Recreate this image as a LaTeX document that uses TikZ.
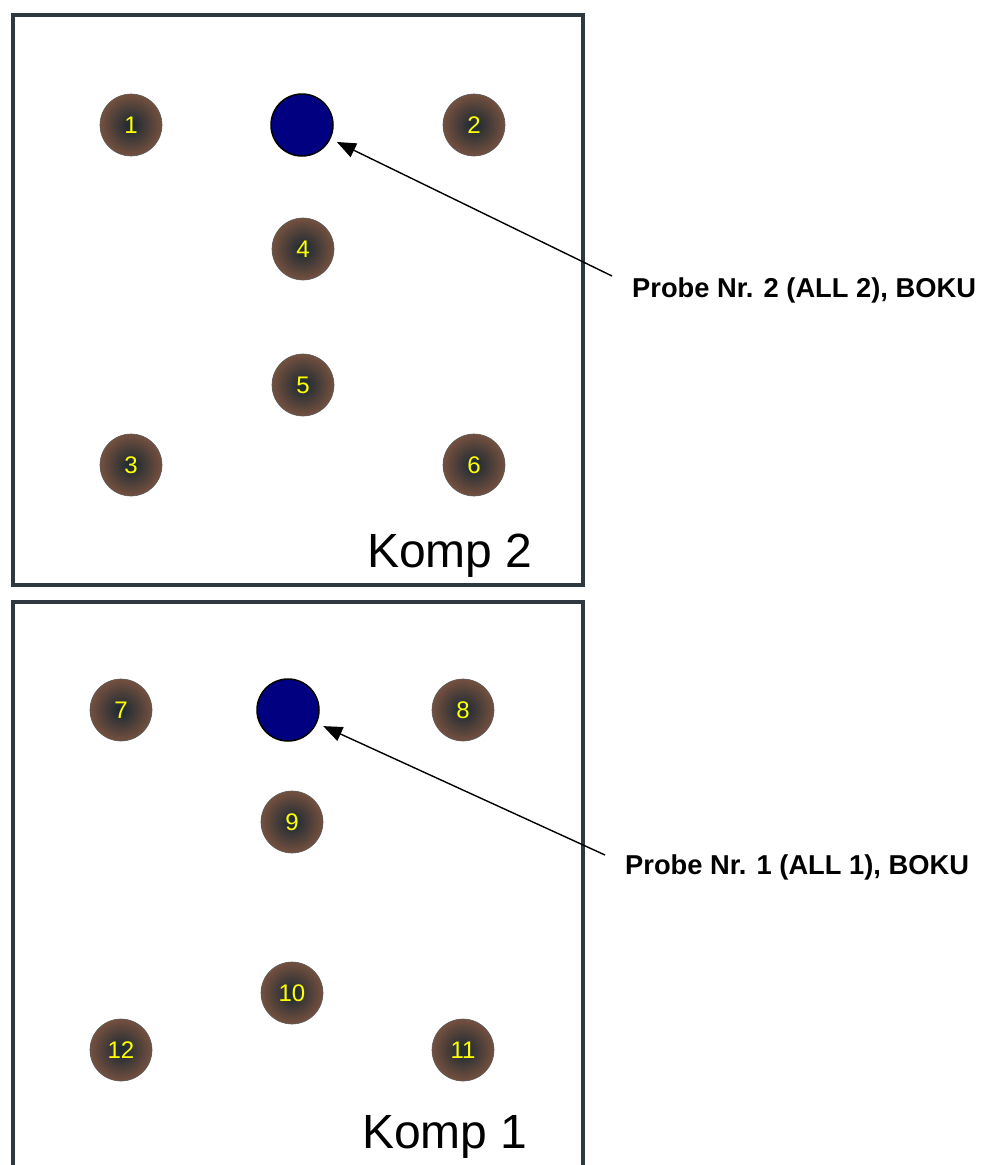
\documentclass[tikz,border=0pt]{standalone}
\usepackage{fontspec}
\setmainfont{Liberation Sans}
\usetikzlibrary{arrows.meta}
\definecolor{boxc}{HTML}{2E3A40}
\definecolor{pitin}{HTML}{232D33}
\definecolor{pitout}{HTML}{74503F}
\definecolor{probe}{HTML}{000080}
\definecolor{numc}{HTML}{FFFF00}
\pgfdeclareradialshading{pitshade}{\pgfpoint{0bp}{0bp}}{color(0bp)=(pitin); color(3bp)=(pitin); color(25bp)=(pitout); color(50bp)=(pitout)}
\tikzset{
  pit/.style={circle, minimum size=62pt, inner sep=0pt, draw=black!65, line width=0.6pt,
    shading=pitshade, text=numc, font=\fontsize{24pt}{24pt}\selectfont},
  probepoint/.style={circle, minimum size=62pt, inner sep=0pt, draw=black, line width=1.5pt, fill=probe},
  compbox/.style={draw=boxc, line width=4pt},
  komp/.style={font=\fontsize{48pt}{48pt}\selectfont, inner sep=0pt, anchor=base},
  lbl/.style={font=\bfseries\fontsize{27.3pt}{27.3pt}\selectfont, inner sep=0pt, anchor=base west},
  pointer/.style={draw=black, line width=1.4pt, -{Triangle[length=19pt,width=15pt]}, shorten >=7pt}
}
\begin{document}
\begin{tikzpicture}[x=1pt,y=-1pt]
\clip (0,0) rectangle (986,1165);
\fill[white] (0,0) rectangle (986,1165);
% top compartment
\draw[compbox] (13,15) rectangle (583,585);
\node[pit] (p1) at (131,125) {1};
\node[probepoint] (b2) at (302,125) {};
\node[pit] (p2) at (474,125) {2};
\node[pit] (p4) at (303,249) {4};
\node[pit] (p5) at (303,385) {5};
\node[pit] (p3) at (131,465) {3};
\node[pit] (p6) at (474,465) {6};
\node[komp] (k2) at (450,567) {Komp 2};
% bottom compartment
\draw[compbox] (13,1180) -- (13,602) -- (583,602) -- (583,1180);
\node[pit] (p7) at (121,710) {7};
\node[probepoint] (b1) at (288,710) {};
\node[pit] (p8) at (463,710) {8};
\node[pit] (p9) at (292,822) {9};
\node[pit] (p10) at (292,993) {10};
\node[pit] (p12) at (121,1050) {12};
\node[pit] (p11) at (463,1050) {11};
\node[komp] (k1) at (445,1148) {Komp 1};
% labels and pointers
\node[lbl] (l2) at (632,297) {Probe Nr. 2 (ALL 2), BOKU};
\node[lbl] (l1) at (625,874) {Probe Nr. 1 (ALL 1), BOKU};
\coordinate (t2) at (612,276);
\coordinate (t1) at (605,855);
\draw[pointer] (t2) -- (b2);
\draw[pointer] (t1) -- (b1);
\end{tikzpicture}
\end{document}
